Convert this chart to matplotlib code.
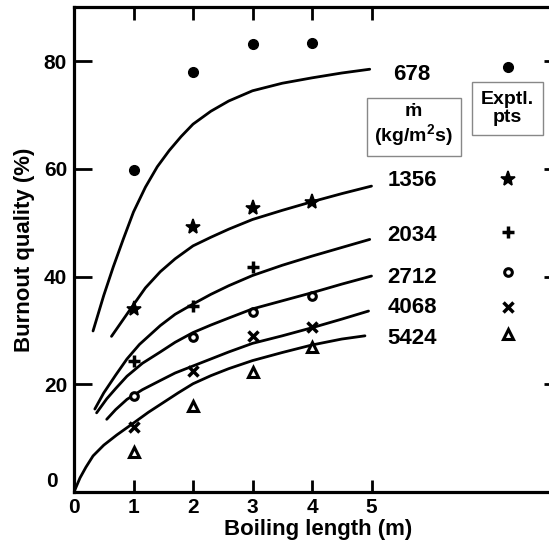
import matplotlib
matplotlib.use("Agg")
import matplotlib.pyplot as plt
import numpy as np

plt.rcParams['font.family'] = ['Liberation Sans', 'DejaVu Sans']
plt.rcParams['font.weight'] = 'bold'
plt.rcParams['mathtext.fontset'] = 'custom'
plt.rcParams['mathtext.bf'] = 'Liberation Sans:bold'
plt.rcParams['mathtext.rm'] = 'Liberation Sans:bold'

# mass flux labels (kg/m2 s)
flux = ['678', '1356', '2034', '2712', '4068', '5424']

# fitted curves
cx_678 = [0.32, 0.5, 0.66, 0.83, 1.0, 1.2, 1.4, 1.6, 1.8, 2.0, 2.3, 2.6, 3.0, 3.5, 4.0, 4.5, 4.97]
cy_678 = [29.9, 36.5, 41.8, 47.0, 52.0, 56.6, 60.4, 63.4, 66.0, 68.3, 70.7, 72.6, 74.5, 75.9, 76.9, 77.8, 78.5]
cx_1356 = [0.63, 0.8, 0.97, 1.2, 1.45, 1.7, 2.0, 2.3, 2.6, 3.0, 3.5, 4.0, 4.5, 5.0]
cy_1356 = [28.9, 31.6, 34.3, 37.9, 40.9, 43.3, 45.7, 47.3, 48.8, 50.6, 52.3, 53.9, 55.4, 56.8]
cx_2034 = [0.35, 0.5, 0.7, 0.89, 1.1, 1.45, 1.7, 2.0, 2.3, 2.6, 3.0, 3.5, 4.0, 4.5, 4.97]
cy_2034 = [15.4, 18.4, 21.7, 24.7, 27.4, 30.9, 33.0, 34.9, 36.7, 38.3, 40.2, 42.1, 43.8, 45.4, 46.9]
cx_2712 = [0.38, 0.55, 0.7, 0.89, 1.15, 1.45, 1.7, 2.0, 2.3, 2.6, 3.0, 3.5, 4.0, 4.5, 5.0]
cy_2712 = [14.7, 17.3, 19.2, 21.5, 23.9, 26.0, 27.8, 29.6, 31.0, 32.3, 34.0, 35.5, 37.0, 38.6, 40.1]
cx_4068 = [0.55, 0.7, 0.89, 1.15, 1.45, 1.7, 2.0, 2.3, 2.6, 3.0, 3.5, 4.0, 4.5, 4.95]
cy_4068 = [13.5, 15.3, 17.2, 19.0, 20.7, 22.1, 23.4, 24.7, 26.0, 27.6, 29.0, 30.5, 32.1, 33.6]
cx_5424 = [0.0, 0.1, 0.2, 0.32, 0.5, 0.72, 1.0, 1.25, 1.5, 1.75, 2.0, 2.3, 2.6, 3.0, 3.5, 4.0, 4.5, 4.89]
cy_5424 = [0.0, 2.6, 4.6, 6.7, 8.7, 10.6, 12.8, 14.8, 16.6, 18.4, 20.1, 21.6, 22.9, 24.4, 25.9, 27.3, 28.4, 29.0]

# experimental points
px_678 = [1, 2, 3, 4]
py_678 = [59.8, 78.0, 83.2, 83.3]
px_1356 = [1, 2, 3, 4]
py_1356 = [33.9, 49.2, 52.8, 53.8]
px_2034 = [1, 2, 3]
py_2034 = [24.3, 34.5, 41.7]
px_2712 = [1, 2, 3, 4]
py_2712 = [17.8, 28.7, 33.5, 36.4]
px_4068 = [1, 2, 3, 4]
py_4068 = [12.0, 22.4, 28.9, 30.6]
px_5424 = [1, 2, 3, 4]
py_5424 = [7.5, 15.9, 22.3, 26.9]

label_y = [77.6, 57.8, 47.6, 39.8, 34.3, 28.5]
key_y = [78.9, 58.1, 48.3, 40.8, 34.3, 29.3]

curves = [(cx_678, cy_678), (cx_1356, cy_1356), (cx_2034, cy_2034),
          (cx_2712, cy_2712), (cx_4068, cy_4068), (cx_5424, cy_5424)]
points = [(px_678, py_678), (px_1356, py_1356), (px_2034, py_2034),
          (px_2712, py_2712), (px_4068, py_4068), (px_5424, py_5424)]
styles = [dict(marker='o', ms=7, mfc='k', mec='k', mew=1),
          dict(marker='*', ms=11, mfc='k', mec='k', mew=1.2),
          dict(marker='+', ms=9, mfc='k', mec='k', mew=2.5),
          dict(marker='o', ms=5.5, mfc='white', mec='k', mew=2.2),
          dict(marker='x', ms=6.5, mfc='k', mec='k', mew=2.5),
          dict(marker='^', ms=7, mfc='white', mec='k', mew=2.2)]

fig = plt.figure(figsize=(5.49, 5.48), dpi=100)
ax = fig.add_axes([74 / 549, 56 / 548, 8.2 * 59.5 / 549, 484.7 / 548])

for (cx, cy), (px, py), st, lab, ly, ky in zip(curves, points, styles, flux, label_y, key_y):
    ax.plot(cx, cy, color='k', lw=2.0, solid_capstyle='round', zorder=2)
    ax.plot(px, py, ls='none', zorder=3, **st)
    ax.text(5.68, ly, lab, ha='center', va='center', fontsize=16, fontweight='bold')
    ax.plot([7.29], [ky], ls='none', zorder=3, **st)

ax.text(5.71, 68.0, 'ṁ\n(kg/m$^{\\mathbf{2}}$s)', ha='center', va='center', fontsize=14,
        fontweight='bold', linespacing=1.1,
        bbox=dict(boxstyle='square,pad=0.4', fc='white', ec='#888888', lw=1))
ax.text(7.29, 71.2, 'Exptl.\npts', ha='center', va='center', fontsize=14,
        fontweight='bold', linespacing=1.1,
        bbox=dict(boxstyle='square,pad=0.45', fc='white', ec='#888888', lw=1))

ax.set_xlim(0, 8.2)
ax.set_ylim(0, 90)
ax.set_xticks([0, 1, 2, 3, 4, 5])
ax.set_yticks([20, 40, 60, 80])
ax.text(-0.27, 2.0, '0', ha='right', va='center', fontsize=15, fontweight='bold')
ax.tick_params(axis='x', direction='in', length=9, width=2, pad=4, labelsize=15,
               top=True)
ax.tick_params(axis='y', direction='in', length=13, width=2, pad=5, labelsize=15,
               right=True)
for s in ax.spines.values():
    s.set_linewidth(2.3)
ax.set_xlabel('Boiling length (m)', fontsize=16, fontweight='bold', labelpad=2)
ax.set_ylabel('Burnout quality (%)', fontsize=16, fontweight='bold', labelpad=6)

fig.savefig('out.png', dpi=100)
